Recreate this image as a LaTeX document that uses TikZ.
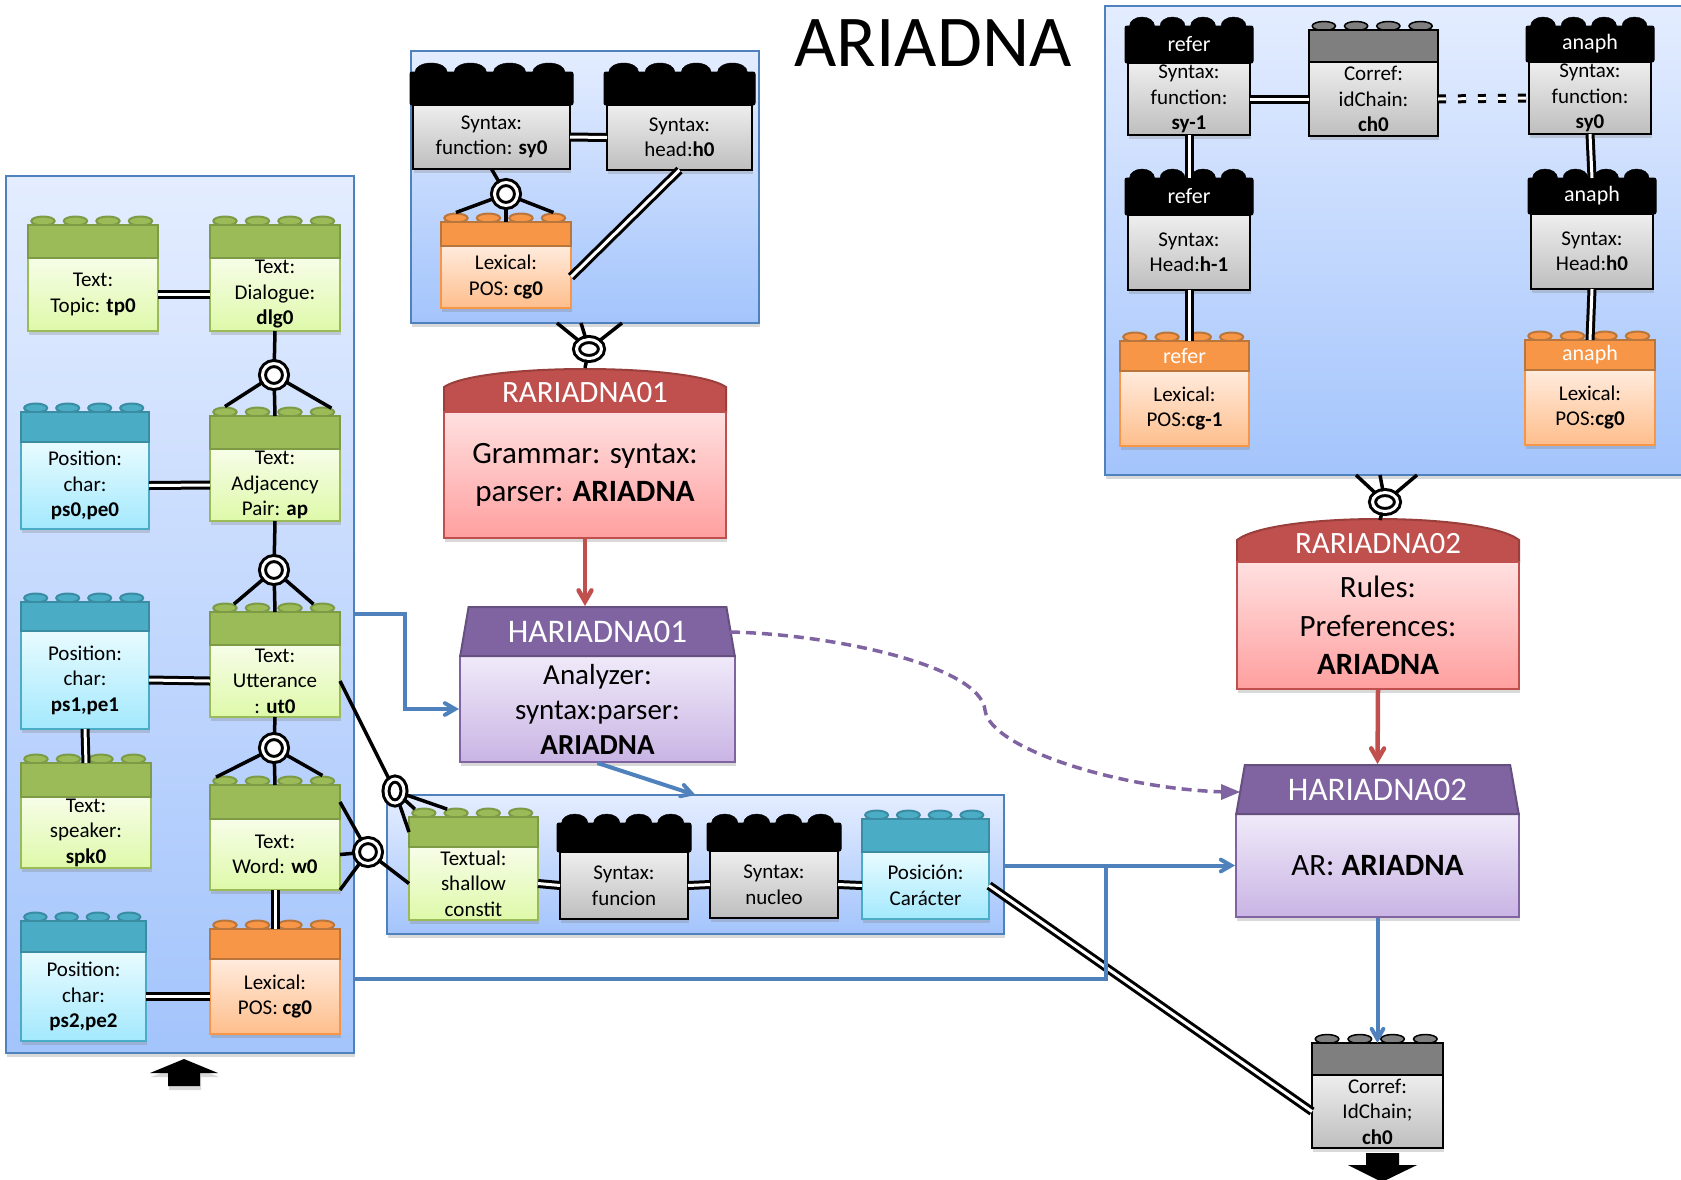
\documentclass[tikz,border=0pt]{standalone}
\usepackage{fontspec}
\setmainfont{Carlito}
\usetikzlibrary{shapes,shapes.geometric,arrows,calc,shadows}
\definecolor{panelline}{HTML}{4F81BD}
\definecolor{paneltop}{HTML}{E4EDFF}
\definecolor{panelbot}{HTML}{A3C4FC}
\definecolor{greenhd}{HTML}{9BBB59}
\definecolor{greendk}{HTML}{7D9A45}
\definecolor{greentop}{HTML}{F7FDE8}
\definecolor{greenbot}{HTML}{DEF9A9}
\definecolor{bluehd}{HTML}{4BACC6}
\definecolor{bluedk}{HTML}{3A8CA3}
\definecolor{bluetop}{HTML}{E8FBFF}
\definecolor{bluebot}{HTML}{A3E9FD}
\definecolor{orangehd}{HTML}{F79646}
\definecolor{orangedk}{HTML}{B9763C}
\definecolor{orangetop}{HTML}{FFEBDD}
\definecolor{orangebot}{HTML}{FEBE8C}
\definecolor{greytop}{HTML}{EEEEEE}
\definecolor{greybot}{HTML}{BEBEBE}
\definecolor{greyhd}{HTML}{7F7F7F}
\definecolor{redhd}{HTML}{C0504D}
\definecolor{reddk}{HTML}{9A3F3C}
\definecolor{redtop}{HTML}{FFE0E0}
\definecolor{redbot}{HTML}{FF9F9F}
\definecolor{purplehd}{HTML}{8064A2}
\definecolor{purpledk}{HTML}{65507F}
\definecolor{purpletop}{HTML}{F0EAF9}
\definecolor{purplebot}{HTML}{C9B4E4}

\newcommand{\brick}[9]{
	\pgfmathsetmacro{\brickw}{#4-#3}
	\node (#2) at (#3,#6) [brickbase, anchor=north west, #1body, minimum width=\brickw, minimum height=#7-#6]{};
	\foreach \i in {0,...,3}{
		\pgfmathsetmacro{\studx}{#3+\brickw*(0.115+0.25*\i)}
		\node (#2-s\i) at (\studx,#5) [#1stud]{};
	}
	\node (#2-head) at (#3,#5) [brickbase, anchor=north west, minimum width=\brickw, minimum height=#6-#5, #1head]{#8};
	\node (#2-text) at (#2.center) [bricktext]{#9};
}

\begin{document}
\begin{tikzpicture}[x=1pt,y=-1pt]

	\useasboundingbox (0,0) rectangle (1681,1179);

	\tikzstyle{softshadow}=[drop shadow={shadow xshift=1pt, shadow yshift=-4pt, opacity=0.3}];
	\tikzstyle{panelbox}=[draw=panelline, line width=2pt, top color=paneltop, bottom color=panelbot, inner sep=0pt, outer sep=0pt, anchor=north west, softshadow];
	\tikzstyle{brickbase}=[rectangle, inner sep=0pt, outer sep=0pt, text=white, font=\fontsize{22}{26}\selectfont];
	\tikzstyle{bricktext}=[align=center, inner sep=0pt, text=black, font=\fontsize{21}{25.5}\selectfont];
	\tikzstyle{studbase}=[ellipse, inner sep=0pt, line width=2pt, yshift=4pt];

	\tikzstyle{greenbody}=[draw=greenhd, line width=2.5pt, top color=greentop, bottom color=greenbot, softshadow];
	\tikzstyle{greenhead}=[draw=greendk, line width=2pt, fill=greenhd];
	\tikzstyle{greenstud}=[studbase, draw=greendk, fill=greenhd, minimum width=0.18*\brickw, minimum height=9];

	\tikzstyle{bluebody}=[draw=bluehd, line width=2.5pt, top color=bluetop, bottom color=bluebot, softshadow];
	\tikzstyle{bluehead}=[draw=bluedk, line width=2pt, fill=bluehd];
	\tikzstyle{bluestud}=[studbase, draw=bluedk, fill=bluehd, minimum width=0.18*\brickw, minimum height=9];

	\tikzstyle{orangebody}=[draw=orangehd, line width=2.5pt, top color=orangetop, bottom color=orangebot, softshadow];
	\tikzstyle{orangehead}=[draw=orangedk, line width=2pt, fill=orangehd];
	\tikzstyle{orangestud}=[studbase, draw=orangedk, fill=orangehd, minimum width=0.18*\brickw, minimum height=9];

	\tikzstyle{blackbody}=[draw=black, line width=2.5pt, top color=greytop, bottom color=greybot, softshadow];
	\tikzstyle{blackhead}=[draw=black, line width=1pt, fill=black, xshift=-3pt, minimum width=\brickw+6, rounded corners=2pt];
	\tikzstyle{blackstud}=[ellipse, inner sep=0pt, fill=black, draw=black, minimum width=0.205*\brickw, minimum height=18];

	\tikzstyle{greybody}=[draw=black, line width=2.5pt, top color=greytop, bottom color=greybot, softshadow];
	\tikzstyle{greyhead}=[draw=black, line width=2pt, fill=greyhd];
	\tikzstyle{greystud}=[studbase, draw=black, line width=1.5pt, fill=greyhd, minimum width=0.18*\brickw, minimum height=9];

	\tikzstyle{ringnode}=[circle, draw=black, fill=white, line width=3pt, double=white, double distance=3pt, minimum size=23pt, inner sep=0pt];
	\tikzstyle{ringwide}=[ringnode, ellipse, minimum width=25pt, minimum height=19pt];
	\tikzstyle{ringtall}=[ringnode, ellipse, minimum width=18pt, minimum height=24pt];
	\tikzstyle{link}=[draw=black, line width=3.5pt];
	\tikzstyle{bond}=[draw=black, line width=3pt, double=white, double distance=3pt];
	\tikzstyle{dashbond}=[bond, dash pattern=on 8pt off 12pt];
	\tikzstyle{bluewire}=[draw=panelline, line width=4pt];
	\tikzstyle{redwire}=[draw=redhd, line width=4.5pt];
	\tikzstyle{dashwire}=[draw=purplehd, line width=3.5pt, dash pattern=on 10pt off 6pt];

	\tikzstyle{rulehead}=[draw=reddk, line width=2pt, fill=redhd];
	\tikzstyle{rulebody}=[draw=redhd, line width=2pt, top color=redtop, bottom color=redbot, inner sep=0pt, align=center, font=\fontsize{31}{38.6}\selectfont, softshadow];
	\tikzstyle{hypohead}=[trapezium, trapezium left angle=75, trapezium right angle=75, trapezium stretches=true, draw=purpledk, line width=2pt, fill=purplehd, text=white, inner sep=0pt, font=\fontsize{33}{38}\selectfont];
	\tikzstyle{hypobody}=[draw=purplehd, line width=2pt, top color=purpletop, bottom color=purplebot, inner sep=0pt, align=center, softshadow];
	\tikzstyle{headlabel}=[text=white, inner sep=0pt, font=\fontsize{31}{36}\selectfont];

	\node (title) at (933,43) [font=\fontsize{73}{80}\selectfont]{ARIADNA};

	\node (panelleft) at (6,176) [panelbox, minimum width=348, minimum height=877]{};
	\node (paneltop) at (411,51) [panelbox, minimum width=348, minimum height=272]{};
	\node (panelright) at (1105,6) [panelbox, minimum width=590, minimum height=469]{};
	\node (panelshallow) at (387,795) [panelbox, minimum width=617, minimum height=139]{};

	\brick{green}{tp0}{28}{158}{225}{258}{331}{}{Text:\\Topic: \textbf{tp0}}
	\brick{green}{dlg0}{210}{340}{225}{258}{331}{}{Text:\\Dialogue:\\\textbf{dlg0}}
	\brick{blue}{ps0}{21}{149}{412}{442}{529}{}{Position:\\char:\\\textbf{ps0,pe0}}
	\brick{green}{ap}{210}{340}{416}{449}{521}{}{Text:\\Adjacency\\Pair: \textbf{ap}}
	\brick{blue}{ps1}{21}{149}{602}{631}{729}{}{Position:\\char:\\\textbf{ps1,pe1}}
	\brick{green}{ut0}{210}{340}{612}{645}{717}{}{Text:\\Utterance\\: \textbf{ut0}}
	\brick{green}{spk0}{21}{151}{763}{797}{868}{}{Text:\\speaker:\\\textbf{spk0}}
	\brick{green}{w0}{210}{340}{785}{819}{890}{}{Text:\\Word: \textbf{w0}}
	\brick{blue}{ps2}{21}{146}{921}{952}{1041}{}{Position:\\char:\\\textbf{ps2,pe2}}
	\brick{orange}{cg0}{210}{340}{929}{959}{1034}{}{Lexical:\\POS: \textbf{cg0}}

	\brick{black}{sy0}{413}{570}{72}{105}{169}{}{Syntax:\\function: \textbf{sy0}}
	\brick{black}{h0}{607}{752}{72}{105}{170}{}{Syntax:\\head:\textbf{h0}}
	\brick{orange}{cgtop}{441}{571}{222}{246}{308}{}{Lexical:\\POS: \textbf{cg0}}

	\brick{black}{refsy}{1128}{1250}{26}{63}{135}{refer}{Syntax:\\function:\\\textbf{sy-1}}
	\brick{grey}{chain}{1309}{1438}{30}{62}{136}{}{Corref:\\idChain:\\\textbf{ch0}}
	\brick{black}{ansy}{1529}{1651}{26}{62}{134}{anaph}{Syntax:\\function:\\\textbf{sy0}}
	\brick{black}{refh}{1128}{1250}{178}{215}{290}{refer}{Syntax:\\Head:\textbf{h-1}}
	\brick{black}{anh}{1531}{1653}{178}{214}{289}{anaph}{Syntax:\\Head:\textbf{h0}}
	\brick{orange}{refcg}{1120}{1249}{341}{371}{446}{refer}{Lexical:\\POS:\textbf{cg-1}}
	\brick{orange}{ancg}{1525}{1655}{340}{370}{445}{anaph}{Lexical:\\POS:\textbf{cg0}}

	\brick{green}{shallow}{409}{538}{817}{847}{920}{}{Textual:\\shallow\\constit}
	\brick{black}{funcion}{560}{688}{823}{852}{919}{}{Syntax:\\funcion}
	\brick{black}{nucleo}{710}{838}{823}{851}{918}{}{Syntax:\\nucleo}
	\brick{blue}{caracter}{862}{989}{819}{852}{919}{}{Posición:\\Carácter}

	\brick{grey}{chainlow}{1312}{1443}{1043}{1075}{1148}{}{Corref:\\IdChain;\\\textbf{ch0}}

	\draw [rulehead] (444,412) -- (444,387) .. controls (480,363) and (690,363) .. (726,387) -- (726,412) -- cycle;
	\node (ruleone) at (585,475) [rulebody, minimum width=282, minimum height=126]{Grammar: syntax:\\parser: \textbf{ARIADNA}};
	\node (ruleonehead) at (585,393) [headlabel]{RARIADNA01};
	\coordinate (ruleonetop) at (585,368);

	\draw [rulehead] (1237,562) -- (1237,540) .. controls (1273,512) and (1483,512) .. (1519,540) -- (1519,562) -- cycle;
	\node (ruletwo) at (1378,625.5) [rulebody, minimum width=282, minimum height=127]{Rules:\\Preferences:\\\textbf{ARIADNA}};
	\node (ruletwohead) at (1378,544) [headlabel]{RARIADNA02};
	\coordinate (ruletwotop) at (1380,520);

	\node (hypoone) at (597.5,709) [hypobody, minimum width=275, minimum height=106, font=\fontsize{29}{35}\selectfont]{Analyzer:\\syntax:parser:\\\textbf{ARIADNA}};
	\node (hypoonehead) at (597.5,631.5) [hypohead, minimum width=275, minimum height=49]{HARIADNA01};
	\node (hypotwo) at (1377.5,865.5) [hypobody, minimum width=283, minimum height=103, font=\fontsize{31}{38}\selectfont]{AR: \textbf{ARIADNA}};
	\node (hypotwohead) at (1377.5,789.5) [hypohead, minimum width=283, minimum height=49]{HARIADNA02};

	\node (ringdlg) at (274,375) [ringnode]{};
	\node (ringap) at (274,570) [ringnode]{};
	\node (ringut) at (274,748) [ringnode]{};
	\node (ringword) at (368,852) [ringnode]{};
	\node (ringshallow) at (395,791) [ringtall]{};
	\node (ringsy) at (506,194) [ringnode]{};
	\node (ringtop) at (589,349) [ringwide]{};
	\node (ringright) at (1385,502) [ringwide]{};

	\coordinate (rightfoota) at (1356,475);
	\coordinate (rightfootb) at (1380,475);
	\coordinate (rightfootc) at (1417,475);
	\coordinate (leftoutup) at (354,614);
	\coordinate (leftoutdown) at (354,979);
	\coordinate (wirecorner) at (1106,865.5);
	\coordinate (dashstart) at (730,632);
	\coordinate (dashend) at (1240,792);

	\draw [link] (ringdlg) -- (dlg0.south);
	\draw [link] (ringdlg) -- (ap-s0.north);
	\draw [link] (ringdlg) -- (ap-head.north);
	\draw [link] (ringdlg) -- (ap-s3.north east);
	\draw [link] (ringap) -- (ap.south);
	\draw [link] (ringap) -- (ut0-s0.north east);
	\draw [link] (ringap) -- (ut0-head.north);
	\draw [link] (ringap) -- (ut0-s3.north west);
	\draw [link] (ringut) -- (ut0.south);
	\draw [link] (ringut) -- (w0-s0.north west);
	\draw [link] (ringut) -- (w0-head.north);
	\draw [link] (ringut) -- (w0-s3.north);
	\draw [link] (ringword) -- (w0-head.east);
	\draw [link] (ringword) -- (w0.east);
	\draw [link] (ringword) -- (w0.south east);
	\draw [link] (ringword) -- (shallow.west);
	\draw [link] (ringshallow) -- (ut0.east);
	\draw [link] (ringshallow) -- (shallow-head.west);
	\draw [link] (ringshallow) -- (shallow-s0.north west);
	\draw [link] (ringshallow) -- (shallow-s1.north west);
	\draw [link] (ringsy) -- (sy0.south);
	\draw [link] (ringsy) -- (cgtop-s0.north);
	\draw [link] (ringsy) -- (cgtop-head.north);
	\draw [link] (ringsy) -- (cgtop-s3.north);
	\draw [link] (ringtop) -- ([xshift=-28pt]paneltop.south);
	\draw [link] (ringtop) -- ([xshift=-4pt]paneltop.south);
	\draw [link] (ringtop) -- ([xshift=37pt]paneltop.south);
	\draw [link] (ringtop) -- (ruleonetop);
	\draw [link] (ringright) -- (rightfoota);
	\draw [link] (ringright) -- (rightfootb);
	\draw [link] (ringright) -- (rightfootc);
	\draw [link] (ringright) -- (ruletwotop);

	\draw [bond] (tp0.east) -- (dlg0.west);
	\draw [bond] (ps0.east) -- (ap.west);
	\draw [bond] (ps1.east) -- (ut0.west);
	\draw [bond] (ps2.east) -- (cg0.west);
	\draw [bond] (ps1.south) -- (spk0-head.north);
	\draw [bond] (w0.south) -- (cg0-head.north);
	\draw [bond] (sy0.east) -- (h0.west);
	\draw [bond] (h0.south) -- (cgtop.east);
	\draw [bond] (refsy.east) -- (chain.west);
	\draw [dashbond] (chain.east) -- (ansy.west);
	\draw [bond] (refsy.south) -- (refh-head.north);
	\draw [bond] (refh.south) -- (refh.south |- refcg-head.north);
	\draw [bond] (ansy.south) -- (anh-head.north);
	\draw [bond] (anh.south) -- (ancg-head.north);
	\draw [bond] (shallow.east) -- (funcion.west);
	\draw [bond] (funcion.east) -- (nucleo.west);
	\draw [bond] (nucleo.east) -- (caracter.west);
	\draw [bond] (caracter.east) -- (chainlow.west);

	\begin{scope}[>=angle 60]

		\draw [->, redwire] (ruleone.south) -- (ruleone.south |- hypoonehead.north);
		\draw [->, redwire] (ruletwo.south) -- (hypotwohead.north);
		\draw [->, bluewire] (leftoutup) -| ([xshift=-54pt]hypoone.west) -- (hypoone.west);
		\draw [bluewire] (leftoutdown) -| (wirecorner);
		\draw [->, bluewire] (panelshallow.east |- hypotwo.west) -- (hypotwo.west);
		\draw [->, bluewire] (hypoone.south) -- (panelshallow.north);
		\draw [->, bluewire] (hypotwo.south) -- (chainlow-head.north);
		\draw [-triangle 45, dashwire] (dashstart) .. controls (830,634) and (980,665) .. (985,710) .. controls (990,750) and (1130,792) .. (dashend);

	\end{scope}

	\fill [black, softshadow] (184,1059) -- (218,1073) -- (200,1073) -- (200,1086) -- (168,1086) -- (168,1073) -- (150,1073) -- cycle;
	\fill [black] (1366,1153) -- (1399,1153) -- (1399,1165) -- (1417,1165) -- (1382,1182) -- (1348,1165) -- (1366,1165) -- cycle;

\end{tikzpicture}
\end{document}
